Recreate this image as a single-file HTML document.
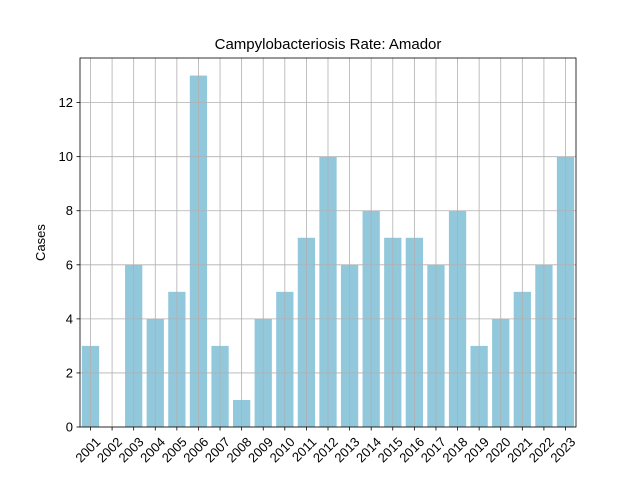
<!DOCTYPE html>
<html><head><meta charset="utf-8"><style>
body{margin:0;background:#fff;}
svg text{font-family:"Liberation Sans","DejaVu Sans",sans-serif;fill:#000;}
</style></head><body>
<svg id="chart" width="640" height="480"></svg>
<script>
const years=["2001","2002","2003","2004","2005","2006","2007","2008","2009","2010","2011","2012","2013","2014","2015","2016","2017","2018","2019","2020","2021","2022","2023"];
const cases=[3,0,6,4,5,13,3,1,4,5,7,10,6,8,7,7,6,8,3,4,5,6,10];
const yTicks=[0,2,4,6,8,10,12];
const L=80,R=576,T=58,B=427;
const ymax=Math.max(...cases)*1.05;
const pad=0.486;
const xs=i=>L+(i+pad)/(years.length-1+2*pad)*(R-L);
const ys=v=>B-v/ymax*(B-T);
const ns="http://www.w3.org/2000/svg";
const svg=document.getElementById('chart');
function mk(t,a,p){const e=document.createElementNS(ns,t);for(const k in a)e.setAttribute(k,a[k]);(p||svg).appendChild(e);return e;}
const bw=0.8/(years.length-1+2*pad)*(R-L);
cases.forEach((v,i)=>{const r=mk('rect',{x:xs(i)-bw/2,y:ys(v),width:bw,height:B-ys(v),fill:'#92c8dc'});

});
years.forEach((y,i)=>{const x=xs(i);
const g=mk('line',{x1:x,x2:x,y1:T,y2:B,stroke:'#b0b0b0','stroke-width':0.8});


mk('line',{x1:x,x2:x,y1:B,y2:B+3.5,stroke:'#000','stroke-width':0.8});
const t=mk('text',{x:x+4,y:B+9,'font-size':13,'text-anchor':'end',transform:`rotate(-45 ${x+4} ${B+9})`,'dominant-baseline':'hanging'});t.textContent=y;

});
yTicks.forEach(v=>{const y=ys(v);
const g=mk('line',{x1:L,x2:R,y1:y,y2:y,stroke:'#b0b0b0','stroke-width':0.8});


mk('line',{x1:L-3.5,x2:L,y1:y,y2:y,stroke:'#000','stroke-width':0.8});
const t=mk('text',{x:L-7,y:y+4.5,'font-size':13,'text-anchor':'end'});t.textContent=v;

});
const f=mk('rect',{x:L,y:T,width:R-L,height:B-T,fill:'none',stroke:'#000','stroke-width':0.8});


let t=mk('text',{x:(L+R)/2,y:49,'font-size':15,'text-anchor':'middle'});t.textContent='Campylobacteriosis Rate: Amador';


t=mk('text',{x:45,y:(T+B)/2,'font-size':13,'text-anchor':'middle',transform:`rotate(-90 45 ${(T+B)/2})`});t.textContent='Cases';


t=mk('text',{x:(L+R)/2,y:489,'font-size':13,'text-anchor':'middle'});t.textContent='Year';


</script>
</body></html>
